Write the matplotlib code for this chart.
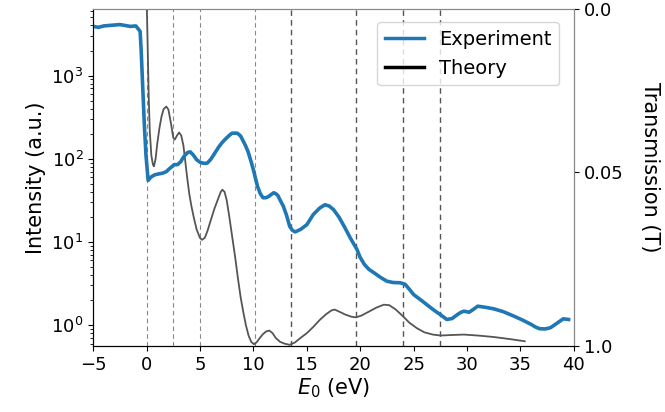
import numpy as np
import matplotlib.pyplot as plt
from matplotlib.lines import Line2D

# experiment (blue)
exp_energy = [-5, -4.5, -4, -3.5, -3, -2.5, -2, -1.5, -1, -0.6, -0.5, -0.35, -0.2, -0.05,
              0.15, 0.4, 0.75, 1.2, 1.5, 1.85, 2.15, 2.6, 2.9, 3.2, 3.4, 3.65, 3.85, 4.1, 4.4,
              4.7, 5.0, 5.2, 5.5, 5.7, 6.0, 6.2, 6.5, 6.8, 7.05, 7.3, 7.65, 8.0, 8.5, 8.8, 9.0,
              9.25, 9.5, 9.75, 10.0, 10.2, 10.4, 10.65, 10.9, 11.15, 11.4, 11.65, 11.9, 12.1,
              12.3, 12.55, 12.8, 13.1, 13.4, 13.65, 13.9, 14.4, 15.0, 15.3, 15.6, 16.2, 16.7,
              17.1, 17.5, 18.0, 18.5, 19.1, 19.7, 20.0, 20.4, 20.8, 21.3, 21.9, 22.5, 23.1,
              23.75, 24.2, 24.6, 25.0, 25.8, 26.6, 27.1, 27.5, 28.1, 28.6, 29.1, 29.4, 29.7,
              30.2, 30.6, 31.0, 31.7, 32.5, 33.4, 34.4, 35.2, 36.0, 36.4, 36.8, 37.3, 37.8,
              38.4, 39.0, 39.5]
exp_intensity = [3900, 3800, 3950, 4000, 4050, 4100, 4000, 3900, 3950, 3400, 2000, 700, 250, 110,
                 55, 60, 64, 66, 67, 70, 76, 85, 85, 92, 102, 112, 119, 121, 110,
                 97, 91, 89, 88, 89, 98, 107, 123, 141, 155, 168, 186, 203, 203, 188, 168,
                 145, 122, 96, 74, 58, 46, 38, 34, 34, 35, 37, 39, 38,
                 36, 31, 27, 21, 15.4, 13.8, 13.2, 14.1, 16.1, 18.5, 21.3, 25.5, 28,
                 27, 24.5, 20, 15.4, 11, 8.1, 6.5, 5.35, 4.7, 4.25, 3.75, 3.37, 3.25,
                 3.23, 3.1, 2.7, 2.33, 1.95, 1.62, 1.45, 1.34, 1.17, 1.2, 1.34, 1.42, 1.47,
                 1.43, 1.55, 1.69, 1.64, 1.57, 1.45, 1.28, 1.15, 1.02, 0.95, 0.905, 0.9, 0.93,
                 1.05, 1.19, 1.17]

# theory (grey)
th_energy = [0.0, 0.05, 0.1, 0.2, 0.3, 0.45, 0.6, 0.7, 0.85, 1.0, 1.2, 1.4, 1.6, 1.85, 2.05,
             2.3, 2.5, 2.65, 2.85, 3.05, 3.25, 3.45, 3.6, 3.8, 4.0, 4.2, 4.45, 4.7, 5.0, 5.2,
             5.45, 5.7, 6.0, 6.35, 6.7, 6.95, 7.1, 7.3, 7.5, 7.75, 8.0, 8.3, 8.55, 8.8, 9.05,
             9.3, 9.55, 9.8, 10.05, 10.3, 10.6, 10.9, 11.2, 11.5, 11.8, 12.1, 12.5, 12.9, 13.4,
             13.9, 14.4, 15.0, 15.6, 16.2, 16.8, 17.3, 17.6, 18.0, 18.6, 19.2, 19.6, 20.1,
             20.8, 21.5, 22.2, 22.7, 23.3, 24.0, 24.6, 25.3, 26.0, 26.8, 27.5, 28.5, 29.7,
             31.0, 32.5, 34.0, 35.4]
th_intensity = [9000, 5000, 2500, 600, 220, 110, 85, 81, 100, 150, 230, 320, 395, 424, 390,
                260, 180, 170, 190, 207, 190, 145, 100, 60, 38, 27, 19, 14, 11.2, 10.6,
                11.2, 13.5, 18, 25, 33, 40, 42.5, 40, 32, 20, 12, 6.5, 3.7, 2.2, 1.45,
                1.0, 0.75, 0.63, 0.59, 0.62, 0.7, 0.78, 0.84, 0.86, 0.8, 0.7, 0.63, 0.6, 0.58,
                0.62, 0.7, 0.8, 0.95, 1.15, 1.35, 1.5, 1.54, 1.46, 1.34, 1.26, 1.24, 1.3,
                1.45, 1.62, 1.76, 1.74, 1.55, 1.28, 1.07, 0.92, 0.82, 0.77, 0.75, 0.76, 0.77,
                0.75, 0.72, 0.68, 0.64]

light_lines = [0, 2.5, 5, 10.15]
dark_lines = [13.5, 19.65, 24.05, 27.5]

trans_ticks = [0, 0.484, 1]
trans_labels = ['0.0', '0.05', '1.0']

fig = plt.figure(figsize=(6.65, 4.12), dpi=100)
ax = fig.add_axes([0.14, 0.16, 0.723, 0.818])

for x in light_lines:
    ax.axvline(x, color='#888888', lw=0.8, ls=(0, (4, 3)), zorder=1)
for x in dark_lines:
    ax.axvline(x, color='#555555', lw=1.0, ls=(0, (4, 3)), zorder=1)

ax.plot(th_energy, th_intensity, color='#555555', lw=1.3, zorder=2)
ax.plot(exp_energy, exp_intensity, color='#1f77b4', lw=2.6, zorder=3)

ax.set_yscale('log')
ax.set_xlim(-5, 40)
ax.set_ylim(0.56, 6300)
ax.set_xticks(np.arange(-5, 41, 5))
ax.tick_params(labelsize=13)
ax.set_xlabel('$E_0$ (eV)', fontsize=15, labelpad=2)
ax.set_ylabel('Intensity (a.u.)', fontsize=15)
for side in ['top', 'right']:
    ax.spines[side].set_color('#888888')

ax2 = ax.twinx()
ax2.set_ylim(1, 0)
ax2.set_yticks(trans_ticks)
ax2.set_yticklabels(trans_labels)
ax2.tick_params(labelsize=13)
ax2.spines['right'].set_color('#888888')
ax2.spines['top'].set_color('#888888')
ax2.set_ylabel('Transmission (T)', fontsize=15, rotation=270)
ax2.yaxis.set_label_coords(1.18, 0.53)

handles = [Line2D([], [], color='#1f77b4', lw=2.5),
           Line2D([], [], color='black', lw=2.5)]
ax2.legend(handles, ['Experiment', 'Theory'], loc='upper right', fontsize=14,
           bbox_to_anchor=(0.99, 0.99))

fig.savefig('out.png', dpi=100)
